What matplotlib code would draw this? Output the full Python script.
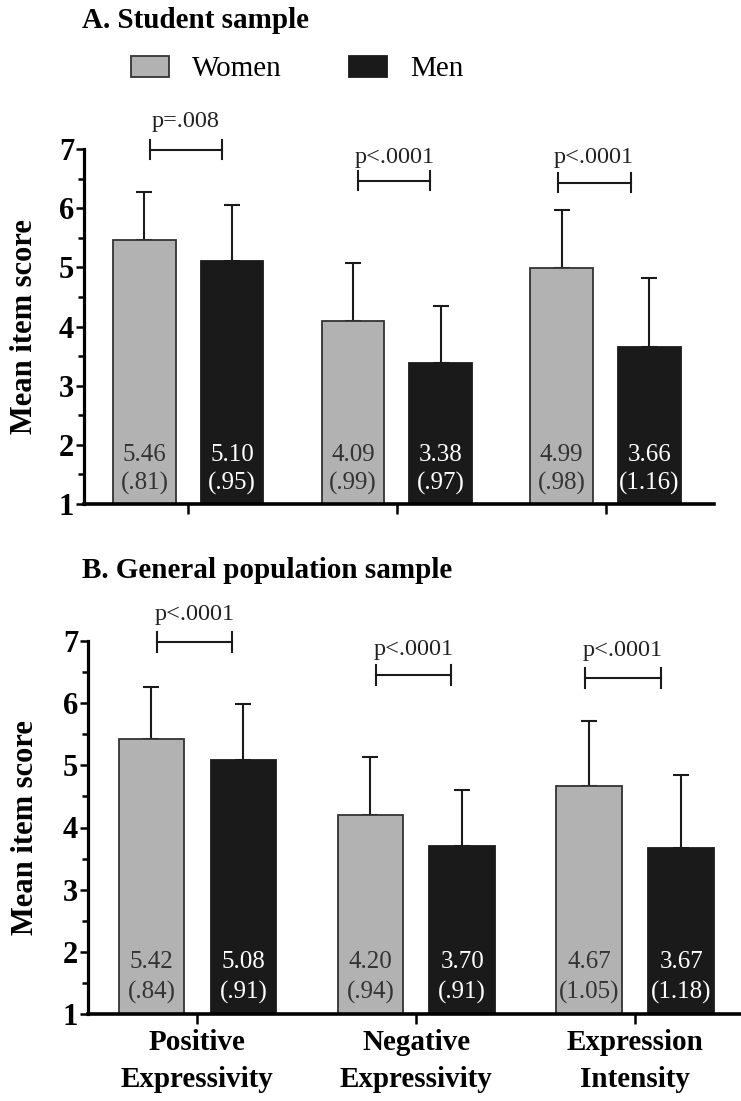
import numpy as np
import matplotlib
matplotlib.use("Agg")
import matplotlib.pyplot as plt
from matplotlib.patches import Patch
from matplotlib.ticker import MultipleLocator

plt.rcParams['font.family'] = ['Liberation Serif', 'DejaVu Serif']

# Data (mean, SD) per scale
categories = ["Positive\nExpressivity", "Negative\nExpressivity", "Expression\nIntensity"]

students_women = [5.46, 4.09, 4.99]
students_women_sd = [0.81, 0.99, 0.98]
students_men = [5.10, 3.38, 3.66]
students_men_sd = [0.95, 0.97, 1.16]
students_p = ["p=.008", "p<.0001", "p<.0001"]

general_women = [5.42, 4.20, 4.67]
general_women_sd = [0.84, 0.94, 1.05]
general_men = [5.08, 3.70, 3.67]
general_men_sd = [0.91, 0.91, 1.18]
general_p = ["p<.0001", "p<.0001", "p<.0001"]

GRAY = '#b2b2b2'
BLACK = '#1a1a1a'


def sd_text(sd):
    s = f"{sd:.2f}"
    if s.startswith("0"):
        s = s[1:]
    return "(" + s + ")"


def draw_panel(ax, women, women_sd, men, men_sd, pvals, bracket_y, ptext_y, show_xlabels):
    x = np.arange(len(women))
    off = 0.21
    w = 0.30
    ax.bar(x - off, women, w, color=GRAY, edgecolor='#333333', linewidth=1.3, zorder=2)
    ax.bar(x + off, men, w, color=BLACK, edgecolor=BLACK, linewidth=1.3, zorder=2)
    ax.errorbar(x - off, women, yerr=[np.zeros(len(women)), women_sd], fmt='none',
                ecolor=BLACK, elinewidth=1.5, capsize=6, capthick=1.5, zorder=1)
    ax.errorbar(x + off, men, yerr=[np.zeros(len(men)), men_sd], fmt='none',
                ecolor=BLACK, elinewidth=1.5, capsize=6, capthick=1.5, zorder=1)

    # mean (SD) written inside the bars
    for i in range(len(women)):
        ax.text(x[i] - off, 1.83, f"{women[i]:.2f}", ha='center', va='center',
                fontsize=18, color='#333333', zorder=3)
        ax.text(x[i] - off, 1.35, sd_text(women_sd[i]), ha='center', va='center',
                fontsize=18, color='#333333', zorder=3)
        ax.text(x[i] + off, 1.83, f"{men[i]:.2f}", ha='center', va='center',
                fontsize=18, color='white', zorder=3)
        ax.text(x[i] + off, 1.35, sd_text(men_sd[i]), ha='center', va='center',
                fontsize=18, color='white', zorder=3)

    # significance brackets
    spans = [(-0.185, 0.16), (-0.185, 0.16), (-0.23, 0.12)]
    for i in range(len(pvals)):
        x0, x1 = x[i] + spans[i][0], x[i] + spans[i][1]
        y = bracket_y[i]
        ax.plot([x0, x1], [y, y], color=BLACK, lw=1.5, clip_on=False)
        ax.plot([x0, x0], [y - 0.16, y + 0.16], color=BLACK, lw=1.5, clip_on=False)
        ax.plot([x1, x1], [y - 0.16, y + 0.16], color=BLACK, lw=1.5, clip_on=False)
        ax.text((x0 + x1) / 2, ptext_y[i], pvals[i], ha='center', va='center',
                fontsize=17.5, color='#222222', clip_on=False)

    ax.set_xlim(-0.5, 2.52)
    ax.set_ylim(1, 7)
    ax.spines['top'].set_visible(False)
    ax.spines['right'].set_visible(False)
    ax.spines['left'].set_linewidth(2.3)
    ax.spines['bottom'].set_linewidth(2.6)
    ax.yaxis.set_major_locator(MultipleLocator(1))
    ax.yaxis.set_minor_locator(MultipleLocator(0.5))
    ax.tick_params(axis='y', which='major', length=6, width=1.8, pad=1, labelsize=22)
    ax.tick_params(axis='y', which='minor', length=4.5, width=1.8)
    ax.tick_params(axis='x', length=7, width=1.8, pad=4, labelsize=21)
    for lab in ax.get_yticklabels():
        lab.set_fontweight('bold')
    ax.set_xticks(x)
    if show_xlabels:
        ax.set_xticklabels(categories, fontweight='bold', linespacing=1.45)
    else:
        ax.set_xticklabels([])
    ax.text(-0.094, 0.5, "Mean item score", transform=ax.transAxes, rotation=90,
            ha='center', va='center', fontsize=22, fontweight='bold')


fig = plt.figure(figsize=(7.41, 11.01), dpi=100)

ax_a = fig.add_axes([84 / 741, 597 / 1101, 630 / 741, 355 / 1101])
draw_panel(ax_a, students_women, students_women_sd, students_men, students_men_sd,
           students_p, [6.99, 6.46, 6.43], [7.46, 6.86, 6.86], False)

ax_b = fig.add_axes([88 / 741, 87 / 1101, 661 / 741, 373 / 1101])
draw_panel(ax_b, general_women, general_women_sd, general_men, general_men_sd,
           general_p, [6.99, 6.45, 6.40], [7.42, 6.87, 6.84], True)

fig.text(82 / 741, 1 - 21 / 1101, "A. Student sample", ha='left', va='center',
         fontsize=21, fontweight='bold')
fig.text(82 / 741, 1 - 570 / 1101, "B. General population sample", ha='left', va='center',
         fontsize=21, fontweight='bold')

handles = [Patch(facecolor=GRAY, edgecolor='#333333', linewidth=1.3, label='Women'),
           Patch(facecolor=BLACK, edgecolor=BLACK, linewidth=1.3, label='Men')]
fig.legend(handles=handles, loc='center left', bbox_to_anchor=(131 / 741, 1 - 69 / 1101),
           ncol=2, frameon=False, fontsize=21, borderpad=0, borderaxespad=0,
           handlelength=1.3, handleheight=0.72, handletextpad=0.8, columnspacing=2.3)

fig.savefig('out.png', dpi=100)
